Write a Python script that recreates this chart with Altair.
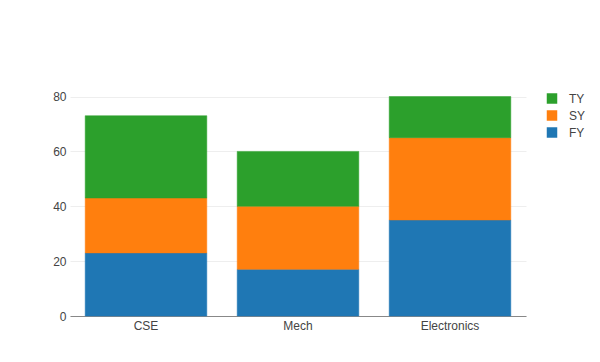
import altair as alt
import pandas as pd

branches = ["CSE", "Mech", "Electronics"]
fy = [23, 17, 35]
sy = [20, 23, 30]
ty = [30, 20, 15]
years = ["FY", "SY", "TY"]
colors = {"FY": "#1f77b4", "SY": "#ff7f0e", "TY": "#2ca02c"}

rows = []
for yi, (name, vals) in enumerate(zip(years, [fy, sy, ty])):
    for b, v in zip(branches, vals):
        rows.append({"branch": b, "year": name, "value": v, "rank": yi})
df = pd.DataFrame(rows)

FONT = "Liberation Sans"
cscale = alt.Scale(domain=["TY", "SY", "FY"],
                   range=[colors["TY"], colors["SY"], colors["FY"]])

chart = alt.Chart(df).mark_bar(strokeWidth=0.5).encode(
    x=alt.X("branch:N", sort=branches, title=None,
            scale=alt.Scale(paddingInner=0.2, paddingOuter=0.1),
            axis=alt.Axis(labelAngle=0, ticks=False, domainColor="#888",
                          labelColor="#444", labelFontSize=12, labelFont=FONT,
                          labelPadding=4, grid=False)),
    y=alt.Y("value:Q", stack="zero", title=None,
            scale=alt.Scale(domain=[0, 84.2], nice=False),
            axis=alt.Axis(values=[0, 20, 40, 60, 80], ticks=False, domain=False,
                          labelColor="#444", labelFontSize=12, labelFont=FONT,
                          labelPadding=4, gridColor="#eeeeee")),
    color=alt.Color("year:N", scale=cscale,
                    legend=alt.Legend(title=None, orient="none", legendX=476, legendY=7.5,
                                      symbolType="square", symbolSize=110,
                                      symbolStrokeWidth=0, labelFontSize=12,
                                      labelFont=FONT, labelColor="#444",
                                      labelOffset=11, rowPadding=5, padding=0)),
    stroke=alt.Color("year:N", scale=cscale, legend=None),
    order=alt.Order("rank:Q", sort="ascending"),
).properties(
    width=456, height=231,
    background="white",
    autosize=alt.AutoSizeParams(type="none"),
    padding={"left": 62, "top": 77, "right": 66, "bottom": 38},
).configure_view(strokeWidth=0, stroke="transparent")

chart.save("out.html", embed_options={"renderer": "svg", "actions": False})
